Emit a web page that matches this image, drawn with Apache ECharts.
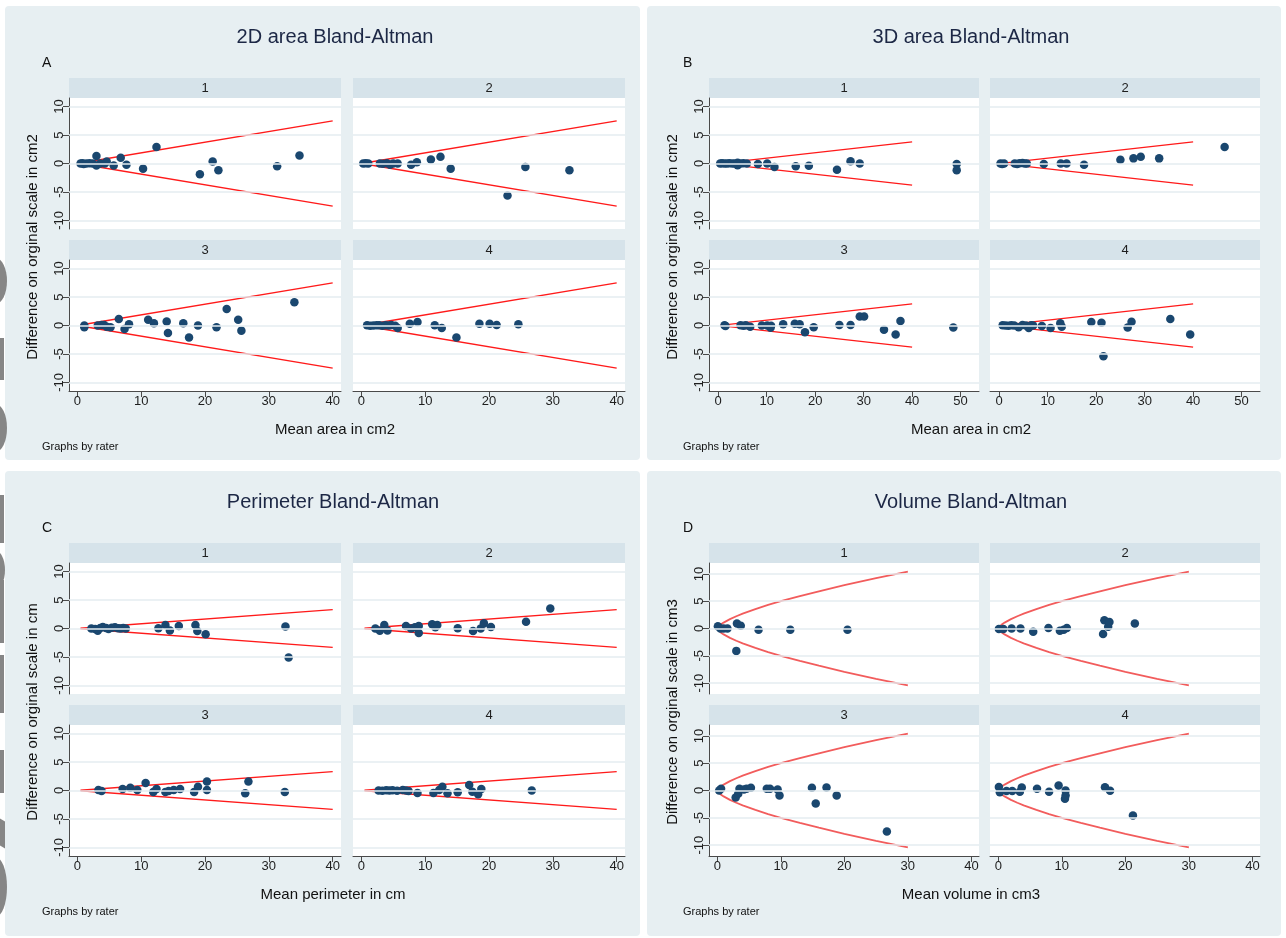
<!DOCTYPE html>
<html><head><meta charset="utf-8">
<script src="https://cdn.jsdelivr.net/npm/echarts@6/dist/echarts.min.js"></script>
<style>
html,body{margin:0;padding:0;background:#fff;}
#wrap{position:relative;width:1286px;height:938px;overflow:hidden;background:#fff;}
.bg{position:absolute;background:#e7eff2;border-radius:4px;}
.art{position:absolute;background:#868686;}
#chart{position:absolute;left:0;top:0;width:1286px;height:938px;}
</style></head><body>
<div id="wrap">
<div class="bg" style="left:5px;top:6px;width:635px;height:454px"></div>
<div class="bg" style="left:647px;top:6px;width:634px;height:454px"></div>
<div class="bg" style="left:5px;top:471px;width:635px;height:465px"></div>
<div class="bg" style="left:647px;top:471px;width:634px;height:465px"></div>
<!-- grey fragments at the left edge of the reference picture -->
<div class="art" style="left:-16px;top:258px;width:23px;height:46px;border-radius:50%"></div>
<div class="art" style="left:0;top:338px;width:4px;height:42px"></div>
<div class="art" style="left:-16px;top:404px;width:23px;height:48px;border-radius:50%"></div>
<div class="art" style="left:0;top:495px;width:4px;height:48px"></div>
<div class="art" style="left:-16px;top:550px;width:21px;height:40px;border-radius:50%"></div>
<div class="art" style="left:0;top:580px;width:4px;height:63px"></div>
<div class="art" style="left:0;top:655px;width:4px;height:58px"></div>
<div class="art" style="left:0;top:750px;width:4px;height:43px"></div>
<div class="art" style="left:0;top:820px;width:5px;height:27px;transform:skewY(30deg)"></div>
<div class="art" style="left:-16px;top:857px;width:23px;height:60px;border-radius:50%"></div>
<div id="chart"></div></div>
<script>
// ---------- DATA ----------
const titles = ['2D area Bland-Altman','3D area Bland-Altman','Perimeter Bland-Altman','Volume Bland-Altman'];
const panelLetters = ['A','B','C','D'];
const xTitles = ['Mean area in cm2','Mean area in cm2','Mean perimeter in cm','Mean volume in cm3'];
const yTitles = ['Difference on orginal scale in cm2','Difference on orginal scale in cm2','Difference on orginal scale in cm','Difference on orginal scale in cm3'];
const byNote = 'Graphs by rater';
const raters = ['1','2','3','4'];
const xTicks40 = [0,10,20,30,40];
const xTicks50 = [0,10,20,30,40,50];
const yTicks = [-10,-5,0,5,10];

const area2D_r1 = [[0.5,0],[0.8,0.05],[1.0,-0.1],[1.4,0],[1.9,0.05],[2.4,0],[3.0,1.3],[3.0,-0.35],[3.6,0],[4.3,0],[4.6,0.35],[5.7,-0.35],[6.8,1.0],[7.7,-0.2],[10.3,-0.9],[12.4,2.9],[19.2,-1.9],[21.2,0.35],[22.1,-1.2],[31.3,-0.5],[34.8,1.4]];
const area2D_r2 = [[0.3,0],[0.7,0.05],[1.1,0],[2.9,0],[3.4,-0.05],[4.0,0.05],[4.5,-0.2],[5.0,0],[5.7,0],[7.8,-0.2],[8.7,0.2],[10.9,0.7],[12.4,1.2],[14.0,-0.9],[22.9,-5.6],[25.7,-0.6],[32.6,-1.2]];
const area2D_r3 = [[1.1,0],[1.1,-0.3],[3.2,0],[3.8,0.1],[4.2,0.1],[4.6,-0.2],[5.2,-0.3],[6.5,1.15],[7.4,-0.6],[8.1,0.2],[11.1,1.0],[12.0,0.4],[14.0,0.7],[14.2,-1.3],[16.6,0.4],[17.5,-2.1],[18.9,0],[21.8,-0.3],[23.4,2.9],[25.2,1.0],[25.7,-0.9],[34.0,4.1]];
const area2D_r4 = [[0.9,0.05],[1.4,-0.05],[1.9,0],[2.4,0.05],[2.8,0.05],[3.3,-0.05],[3.8,0.05],[4.3,0],[4.7,0.1],[5.3,-0.05],[5.7,-0.45],[7.6,0.3],[8.8,0.6],[11.5,0.05],[12.6,-0.45],[14.9,-2.1],[18.5,0.3],[20.1,0.3],[21.2,0.1],[24.6,0.2]];

const area3D_r1 = [[0.4,0],[0.8,0.05],[1.3,0],[1.8,0],[2.3,0.05],[2.9,0],[3.4,0],[4.0,-0.3],[4.0,0.15],[4.6,0],[5.2,0.05],[5.9,0],[8.2,-0.1],[10.1,0],[11.6,-0.6],[16.0,-0.5],[18.7,-0.4],[24.5,-1.1],[27.3,0.4],[29.2,0],[49.2,-0.1],[49.2,-1.2]];
const area3D_r2 = [[0.25,0],[0.6,-0.1],[1.0,0],[3.2,0],[3.7,-0.1],[4.2,0.05],[4.8,0.1],[5.3,0],[5.7,0],[9.2,-0.1],[12.7,0],[13.9,0],[17.5,-0.2],[25.0,0.65],[27.7,0.9],[29.2,1.2],[33.0,0.9],[46.5,2.9]];
const area3D_r3 = [[1.3,0.05],[1.5,-0.1],[4.6,0.05],[5.2,-0.05],[5.7,0.05],[6.6,-0.2],[9.0,0],[10.1,0],[10.8,-0.4],[10.9,-0.05],[13.4,0.2],[15.8,0.3],[16.8,0.2],[17.9,-1.2],[19.7,-0.3],[25.0,0.1],[27.3,0.1],[29.2,1.6],[30.1,1.6],[34.2,-0.75],[36.6,-1.6],[37.6,0.8],[48.5,-0.35]];
const area3D_r4 = [[0.7,0.05],[1.3,0],[1.9,-0.05],[2.5,0.05],[3.1,0],[4.0,-0.3],[4.8,0.1],[5.5,0],[6.1,-0.45],[6.6,0.05],[7.0,0],[8.8,-0.1],[10.6,-0.45],[12.6,0.4],[12.9,-0.2],[19.0,0.6],[21.1,0.5],[21.5,-5.4],[26.5,-0.35],[27.3,0.65],[35.3,1.15],[39.4,-1.6]];

const perim_r1 = [[2.2,0],[2.8,-0.1],[3.2,-0.4],[3.6,0.1],[4.0,0.25],[4.5,0.1],[4.9,-0.1],[5.4,0.15],[5.9,0.2],[6.4,0.05],[6.8,0],[7.2,0.1],[7.6,0],[12.7,0.05],[13.8,0.6],[14.5,-0.35],[15.9,0.45],[18.5,0.6],[18.8,-0.45],[20.1,-1.0],[32.6,0.35],[33.1,-5.1]];
const perim_r2 = [[2.2,0],[2.9,-0.4],[3.6,0.6],[4.1,-0.35],[7.0,0.45],[7.8,0],[8.4,0.2],[9.0,0.45],[9.0,-0.8],[11.1,0.75],[11.6,0.2],[11.9,0.6],[15.1,0.05],[17.5,-0.45],[18.7,0],[19.2,0.9],[20.3,0.25],[25.8,1.2],[29.6,3.5]];
const perim_r3 = [[3.3,0.1],[3.8,-0.1],[7.1,0.25],[8.3,0.5],[9.4,0.1],[10.7,1.3],[11.9,-0.25],[12.4,0.25],[13.8,-0.25],[14.3,-0.1],[15.1,0.1],[16.1,0.25],[18.3,-0.25],[18.9,0.65],[20.3,0.1],[20.3,1.6],[26.3,-0.5],[26.8,1.6],[32.5,-0.25]];
const perim_r4 = [[2.7,0],[3.3,-0.05],[3.9,0.05],[4.4,0],[4.9,0.05],[5.6,-0.05],[6.5,0.1],[7.0,0],[7.4,-0.1],[8.8,-0.45],[11.3,-0.45],[12.2,0.1],[12.7,0.65],[13.5,-0.5],[15.1,-0.3],[16.9,0.95],[17.4,-0.2],[18.3,-0.65],[18.8,0.25],[26.7,0]];

const vol_r1 = [[0.1,0.4],[0.5,0],[1.0,0],[1.6,0],[3.1,0.9],[3.7,0.5],[3.0,-4.1],[6.5,-0.25],[11.5,-0.25],[20.5,-0.25]];
const vol_r2 = [[0.1,-0.1],[0.8,-0.1],[2.1,0],[3.5,0],[5.5,-0.6],[7.9,0.1],[9.7,-0.4],[10.3,-0.25],[10.8,0.1],[16.5,-1.0],[16.7,1.5],[17.3,0.3],[17.5,1.2],[21.5,0.9]];
const vol_r3 = [[0.3,0],[0.6,0.3],[2.9,-1.3],[3.3,-0.6],[3.5,0.3],[4.2,0.2],[4.6,0.3],[5.3,0.5],[7.8,0.3],[8.3,0.3],[9.5,0.2],[9.8,-0.9],[14.9,0.5],[15.5,-2.4],[17.2,0.55],[18.8,-0.9],[26.7,-7.5]];
const vol_r4 = [[0.1,0.65],[0.25,-0.3],[1.3,-0.1],[2.2,-0.1],[3.4,-0.25],[3.7,0.55],[6.1,0.3],[8.0,-0.25],[9.5,0.9],[10.6,0],[10.6,-0.9],[10.5,-1.5],[16.8,0.6],[17.6,-0.05],[21.2,-4.6]];

// limits of agreement
const area2D_upper = [[0.5,0.09],[40,7.5]];
const area2D_lower = [[0.5,-0.09],[40,-7.5]];
const area3D_upper = [[0.4,0.04],[40,3.8]];
const area3D_lower = [[0.4,-0.04],[40,-3.8]];
const perim_upper = [[0.5,0.04],[40,3.3]];
const perim_lower = [[0.5,-0.04],[40,-3.3]];
const vol_upper = [[0.05,0.15],[0.2,0.37],[0.5,0.68],[1,1.08],[2,1.71],[3,2.24],[4,2.71],[6,3.55],[8,4.31],[10,5.0],[13,5.93],[16,6.8],[20,7.94],[25,9.21],[30,10.4]];
const vol_lower = [[0.05,-0.15],[0.2,-0.37],[0.5,-0.68],[1,-1.08],[2,-1.71],[3,-2.24],[4,-2.71],[6,-3.55],[8,-4.31],[10,-5.0],[13,-5.93],[16,-6.8],[20,-7.94],[25,-9.21],[30,-10.4]];

// ---------- ASSEMBLY ----------
const panelData = [
  [area2D_r1, area2D_r2, area2D_r3, area2D_r4],
  [area3D_r1, area3D_r2, area3D_r3, area3D_r4],
  [perim_r1, perim_r2, perim_r3, perim_r4],
  [vol_r1, vol_r2, vol_r3, vol_r4]
];
const panelXTicks = [xTicks40, xTicks50, xTicks40, xTicks40];
const panelUpper = [area2D_upper, area3D_upper, perim_upper, vol_upper];
const panelLower = [area2D_lower, area3D_lower, perim_lower, vol_lower];

const FONT = '"Liberation Sans", Arial, Helvetica, sans-serif';
const layout = [
  {oy:0,   cols:[69,353], w:272, xr:[-1.3,41.3], yr:11.5, cx:335, lx:42,  ytx:33,  lc:'#ff1a1a', lw:1.3},
  {oy:0,   cols:[709,990], w:270, xr:[-1.9,53.8], yr:11.5, cx:971, lx:683, ytx:673, lc:'#ff1a1a', lw:1.3},
  {oy:465, cols:[69,353], w:272, xr:[-1.3,41.3], yr:11.5, cx:333, lx:42,  ytx:33,  lc:'#ff1a1a', lw:1.3},
  {oy:465, cols:[709,990], w:270, xr:[-1.3,41.2], yr:12,   cx:971, lx:683, ytx:673, lc:'#f25c5c', lw:1.8}
];
const headerTop = [78, 240], plotTop = [98, 260], plotH = 131, headerH = 20;
const AXC = '#4a4a4a', TXT = '#1e1e1e', NAVY = '#1a476f', HEAD = '#d6e3ea', GRIDC = '#e5edf1';

const grid = [], xAxis = [], yAxis = [], series = [], elements = [];
let gi = 0;
layout.forEach((p, pi) => {
  elements.push({type:'text', x:p.cx, y:p.oy+37, style:{text:titles[pi], textAlign:'center', textVerticalAlign:'middle', fontSize:20, fontFamily:FONT, fill:'#1c2745'}});
  elements.push({type:'text', x:p.lx, y:p.oy+63, style:{text:panelLetters[pi], textAlign:'left', textVerticalAlign:'middle', fontSize:14, fontFamily:FONT, fill:'#111'}});
  elements.push({type:'text', x:p.cx, y:p.oy+430, style:{text:xTitles[pi], textAlign:'center', textVerticalAlign:'middle', fontSize:15, fontFamily:FONT, fill:'#111'}});
  elements.push({type:'text', x:p.ytx, y:p.oy+247, rotation:Math.PI/2, style:{text:yTitles[pi], textAlign:'center', textVerticalAlign:'middle', fontSize:15, fontFamily:FONT, fill:'#111'}});
  elements.push({type:'text', x:p.lx, y:p.oy+447, style:{text:byNote, textAlign:'left', textVerticalAlign:'middle', fontSize:11, fontFamily:FONT, fill:'#111'}});
  for (let r = 0; r < 4; r++) {
    const col = r % 2, row = Math.floor(r / 2);
    const left = p.cols[col], top = p.oy + plotTop[row];
    elements.push({type:'rect', shape:{x:left, y:p.oy+headerTop[row], width:p.w, height:headerH}, style:{fill:HEAD}});
    elements.push({type:'text', x:left + p.w/2, y:p.oy+headerTop[row]+headerH/2, style:{text:raters[r], textAlign:'center', textVerticalAlign:'middle', fontSize:13, fontFamily:FONT, fill:TXT}});
    grid.push({left:left, top:top, width:p.w, height:plotH, show:true, backgroundColor:'#ffffff', borderWidth:0});
    xAxis.push({gridIndex:gi, type:'value', min:p.xr[0], max:p.xr[1], show: row === 1,
      axisLine:{show:true, onZero:false, lineStyle:{color:AXC, width:1}},
      axisTick:{show:true, length:6, customValues:panelXTicks[pi], lineStyle:{color:AXC}},
      axisLabel:{customValues:panelXTicks[pi], fontSize:13, fontFamily:FONT, color:TXT, margin:4},
      splitLine:{show:false}});
    yAxis.push({gridIndex:gi, type:'value', min:-p.yr, max:p.yr, show: col === 0,
      axisLine:{show:true, onZero:false, lineStyle:{color:AXC, width:1}},
      axisTick:{show:true, length:6, customValues:yTicks, lineStyle:{color:AXC}},
      axisLabel:{customValues:yTicks, rotate:90, fontSize:13, fontFamily:FONT, color:TXT, margin:3},
      splitLine:{show:false}});
    series.push({type:'line', xAxisIndex:gi, yAxisIndex:gi, data:[], silent:true, z:1,
      markLine:{silent:true, symbol:'none', animation:false, label:{show:false},
        lineStyle:{color:GRIDC, width:1.5, type:'solid'}, data:yTicks.map(v => ({yAxis:v}))}});
    series.push({type:'line', xAxisIndex:gi, yAxisIndex:gi, data:panelUpper[pi], showSymbol:false, symbol:'none', z:2,
      lineStyle:{color:p.lc, width:p.lw}});
    series.push({type:'line', xAxisIndex:gi, yAxisIndex:gi, data:panelLower[pi], showSymbol:false, symbol:'none', z:2,
      lineStyle:{color:p.lc, width:p.lw}});
    series.push({type:'scatter', xAxisIndex:gi, yAxisIndex:gi, data:panelData[pi][r], symbol:'circle', symbolSize:8.5, z:3,
      itemStyle:{color:NAVY, opacity:1}});
    gi++;
  }
});

const chart = echarts.init(document.getElementById('chart'), null, {renderer:'canvas'});
chart.setOption({
  animation:false,
  backgroundColor:'transparent',
  grid:grid, xAxis:xAxis, yAxis:yAxis, series:series,
  graphic:{elements:elements}
});
</script>
</body></html>
